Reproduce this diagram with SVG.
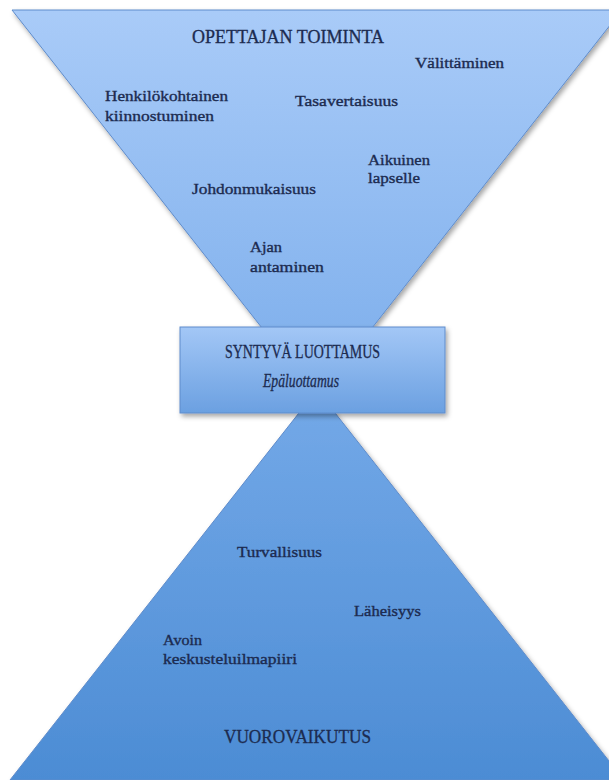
<svg xmlns="http://www.w3.org/2000/svg" width="609" height="780" viewBox="0 0 609 780">
<defs>
<linearGradient id="gTop" x1="0" y1="10" x2="0" y2="398" gradientUnits="userSpaceOnUse">
<stop offset="0" stop-color="#a9cbf8"/>
<stop offset="1" stop-color="#7badeb"/>
</linearGradient>
<linearGradient id="gRect" x1="0" y1="327" x2="0" y2="413" gradientUnits="userSpaceOnUse">
<stop offset="0" stop-color="#a3c7f6"/>
<stop offset="1" stop-color="#6ba0e1"/>
</linearGradient>
<linearGradient id="gBot" x1="0" y1="390" x2="0" y2="780" gradientUnits="userSpaceOnUse">
<stop offset="0" stop-color="#74a9e8"/>
<stop offset="1" stop-color="#4c8cd4"/>
</linearGradient>
<filter id="sh" x="-10%" y="-10%" width="120%" height="120%">
<feDropShadow dx="2" dy="3" stdDeviation="2.5" flood-color="#000" flood-opacity="0.35"/>
</filter>
</defs>
<style>
.lbl{font-family:"Liberation Serif","DejaVu Serif",serif;font-size:15px;fill:#1c2b50;stroke:#1c2b50;stroke-width:0.35;}
.ttl{font-family:"Liberation Serif","DejaVu Serif",serif;font-size:18px;fill:#1c2b50;stroke:#1c2b50;stroke-width:0.3;}
.shape{stroke:#5f8ccb;stroke-width:1;}
</style>
<rect width="609" height="780" fill="#ffffff"/>
<g id="top-triangle">
<polygon class="shape" points="12,10 622,10 317,398" fill="url(#gTop)" filter="url(#sh)"/>
<text class="ttl" x="192" y="43" textLength="192" lengthAdjust="spacingAndGlyphs">OPETTAJAN TOIMINTA</text>
</g>
<g id="bottom-triangle">
<polygon class="shape" points="317,390 624,780 10,780" fill="url(#gBot)" filter="url(#sh)"/>
<text class="ttl" x="224" y="743" textLength="147" lengthAdjust="spacingAndGlyphs">VUOROVAIKUTUS</text>
</g>
<g id="center-box">
<rect class="shape" x="180" y="327" width="265" height="86" fill="url(#gRect)" filter="url(#sh)"/>
<text class="ttl" x="225" y="358" textLength="155" lengthAdjust="spacingAndGlyphs" font-size="16">SYNTYVÄ LUOTTAMUS</text>
<text class="ttl" x="263" y="387" textLength="76" lengthAdjust="spacingAndGlyphs" font-size="15" font-style="italic">Epäluottamus</text>
</g>
<g id="valittaminen"><text class="lbl" x="415" y="68" textLength="89" lengthAdjust="spacingAndGlyphs">Välittäminen</text></g>
<g id="henkilokohtainen"><text class="lbl" x="105" y="101" textLength="123" lengthAdjust="spacingAndGlyphs">Henkilökohtainen</text><text class="lbl" x="105" y="121" textLength="109" lengthAdjust="spacingAndGlyphs">kiinnostuminen</text></g>
<g id="tasavertaisuus"><text class="lbl" x="295" y="106" textLength="103" lengthAdjust="spacingAndGlyphs">Tasavertaisuus</text></g>
<g id="aikuinen"><text class="lbl" x="368" y="165" textLength="62" lengthAdjust="spacingAndGlyphs">Aikuinen</text><text class="lbl" x="368" y="183" textLength="52" lengthAdjust="spacingAndGlyphs">lapselle</text></g>
<g id="johdonmukaisuus"><text class="lbl" x="192" y="194" textLength="124" lengthAdjust="spacingAndGlyphs">Johdonmukaisuus</text></g>
<g id="ajan"><text class="lbl" x="250" y="252" textLength="32" lengthAdjust="spacingAndGlyphs">Ajan</text><text class="lbl" x="250" y="272" textLength="74" lengthAdjust="spacingAndGlyphs">antaminen</text></g>
<g id="turvallisuus"><text class="lbl" x="237" y="557" textLength="85" lengthAdjust="spacingAndGlyphs">Turvallisuus</text></g>
<g id="laheisyys"><text class="lbl" x="354" y="616" textLength="67" lengthAdjust="spacingAndGlyphs">Läheisyys</text></g>
<g id="avoin"><text class="lbl" x="163" y="645" textLength="39" lengthAdjust="spacingAndGlyphs">Avoin</text><text class="lbl" x="163" y="664" textLength="134" lengthAdjust="spacingAndGlyphs">keskusteluilmapiiri</text></g>
</svg>
